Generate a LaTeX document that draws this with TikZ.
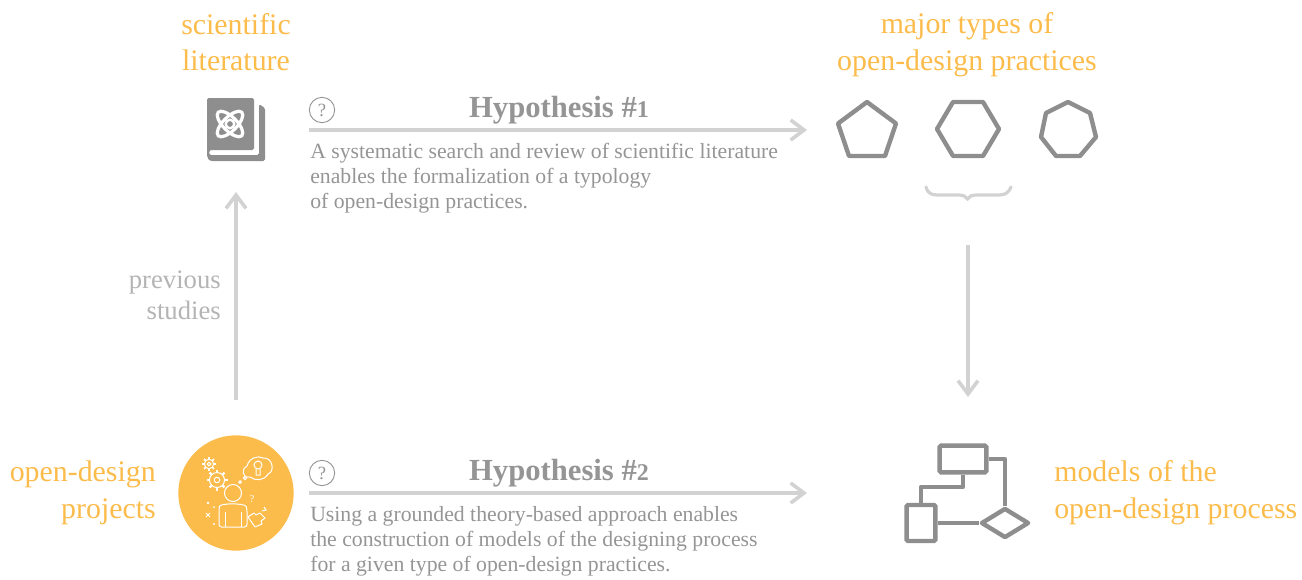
\documentclass[tikz,border=0pt]{standalone}
\usepackage{fontspec}
\setmainfont{Liberation Serif}
\usetikzlibrary{arrows.meta,shapes.geometric}
\definecolor{org}{HTML}{FCBC4C}
\definecolor{dk}{HTML}{8E8E8E}
\definecolor{lt}{HTML}{D2D2D2}
\definecolor{tx}{HTML}{959595}
\definecolor{md}{HTML}{B4B4B4}
\tikzset{x=0.75pt,y=-0.75pt,
 head/.style={org,font=\fontsize{22.4}{27.5}\selectfont,inner sep=0,align=center},
 body/.style={tx,font=\fontsize{16.3}{18.75}\selectfont,inner sep=0,align=left,anchor=north west},
 hyp/.style={tx,font=\fontsize{23}{23}\selectfont\bfseries,inner sep=0},
 arr/.style={lt,line width=3.6pt,-{Straight Barb[length=10pt,width=15pt,line width=2.7pt]}},
 shp/.style={dk,line width=3.3pt,line join=round},
 qm/.style={circle,draw=tx,line width=.7pt,minimum size=19pt,inner sep=0,tx,font=\fontsize{14}{14}\selectfont},
 icon/.style={white,line width=.75pt}}
\begin{document}
\begin{tikzpicture}
\useasboundingbox (0,0) rectangle (1302,579);
\node[head] (t1) at (236,42) {scientific\\literature};
\node[head] (t2) at (967,45) {major types of\\open-design practices};
\node[head,align=right,anchor=east] (t3) at (156,493) {open-design\\projects};
\node[head,align=left,anchor=west] (t4) at (1054,493) {models of the\\open-design process};
% book
\fill[dk,rounded corners=1.2pt] (207,98) -- (254,98) -- (254,150) -- (213,150) .. controls (209,150) and (208,155) .. (213,155) -- (259,155) -- (259,104) -- (265,108) -- (265,161) -- (214,161) .. controls (209,161) and (207,158) .. (207,154) -- cycle;
\coordinate (bk) at (230,124);
\begin{scope}[shift={(bk)}]
\foreach \a in {45,-45}{\draw[white,line width=2.4pt,rotate=\a] (0,0) ellipse (12.5pt and 5.2pt);}
\draw[white,line width=1.8pt] (0,0) circle (3.2pt);
\end{scope}
\node[qm] (q1) at (322,110) {?};
\node[qm] (q2) at (322,473) {?};
\node[hyp] (h1) at (559,110) {Hypothesis \#\fontsize{18}{18}\selectfont 1};
\node[hyp] (h2) at (559,473) {Hypothesis \#\fontsize{18}{18}\selectfont 2};
\coordinate (a1s) at (309,130); \coordinate (a1e) at (807,130);
\coordinate (a2s) at (309,493); \coordinate (a2e) at (807,493);
\draw[arr] (a1s) -- (a1e);
\draw[arr] (a2s) -- (a2e);
\node[body] (b1) at (310,143) {A systematic search and review of scientific literature\\enables the formalization of a typology\\of open-design practices.};
\node[body] (b2) at (310,506) {Using a grounded theory-based approach enables\\the construction of models of the designing process\\for a given type of open-design practices.};
% up arrow
\coordinate (u1) at (236,400); \coordinate (u2) at (236,192);
\draw[arr] (u1) -- (u2);
\node[md,font=\fontsize{20}{23}\selectfont,inner sep=0,align=right,anchor=east] (ps) at (221,295) {previous\\studies};
\coordinate (d1) at (968,245); \coordinate (d2) at (968,397);
\draw[arr] (d1) -- (d2);
% polygons
\draw[shp] (867,102) -- (896,123.5) -- (885,156) -- (849,156) -- (838,123.5) -- cycle;
\draw[shp] (953,102) -- (983,102) -- (999,129) -- (983,156) -- (953,156) -- (937,129) -- cycle;
\draw[shp] (1068,102) -- (1090,113) -- (1096,137) -- (1080,156) -- (1056,156) -- (1041,137) -- (1046,113) -- cycle;
% brace
\draw[lt,line width=2.4pt,line cap=round] (926,187) .. controls (928,194) and (932,195) .. (938,195) -- (958,195) .. controls (963,195) and (966,196) .. (967.5,199) .. controls (969,196) and (972,195) .. (977,195) -- (998,195) .. controls (1004,195) and (1008,194) .. (1011,187);
% flowchart
\node[draw=dk,line width=3.3pt,rounded corners=1pt,minimum width=35pt,minimum height=20pt,inner sep=0] (r1) at (963,459) {};
\node[draw=dk,line width=3.3pt,rounded corners=1pt,minimum width=21.5pt,minimum height=27pt,inner sep=0] (r2) at (921,523) {};
\node[draw=dk,line width=3.3pt,line join=round,diamond,aspect=1.6,minimum width=36pt,minimum height=22.5pt,inner sep=0] (dm) at (1005,523) {};
\draw[shp] (r1.south) -- (963,487) -- (921,487) -- (r2.north);
\draw[shp] (r1.east) -- (1005,459) -- (dm.north);
\draw[shp] (r2.east) -- (dm.west);
% person icon
\node[circle,fill=org,minimum size=86.5pt,inner sep=0] (pc) at (236,493) {};
\begin{scope}[icon]
\draw (233,493) circle (8.5);
\draw[rounded corners=2pt] (219,527) -- (219,509) .. controls (220,503) and (245,503) .. (247,509) -- (247,527) -- cycle;
\draw (225,512) -- (225,527) (241,512) -- (241,527);
\foreach \a in {0,45,...,315}{\draw[line width=1.6pt] (217,480)++(\a:7.5) -- ++(\a:3); \draw[line width=1.3pt] (209,464)++(\a:4.7) -- ++(\a:2.3);}
\draw (217,480) circle (7.5) (217,480) circle (2.8);
\draw (209,464) circle (4.7) (209,464) circle (1.8);
\draw (250,477) .. controls (242,479) and (241,468) .. (247,466) .. controls (249,458) and (258,455) .. (263,458) .. controls (273,457) and (275,472) .. (268,474) .. controls (264,481) and (255,481) .. (250,477) -- cycle;
\draw (258,465) circle (4) (256,469) -- (256,475) -- (260,475) -- (260,469);
\draw (245,478) circle (1.6) (240,482) circle (1.3);
\node[white,font=\fontsize{8}{8}\selectfont,inner sep=0] (qq) at (252,499) {?};
\fill[white] (208,503) circle (1.4) (214,507) circle (1) (214,524) circle (1.2);
\draw (206,513) -- (210,517) (210,513) -- (206,517);
\draw[line join=round] (248,517) -- (254,513) -- (256,515) -- (260,513) -- (265,518) -- (261,521) -- (262,524) -- (255,527) -- cycle;
\draw (262,511) -- (266,510) -- (264,507);
\end{scope}
\end{tikzpicture}
\end{document}
